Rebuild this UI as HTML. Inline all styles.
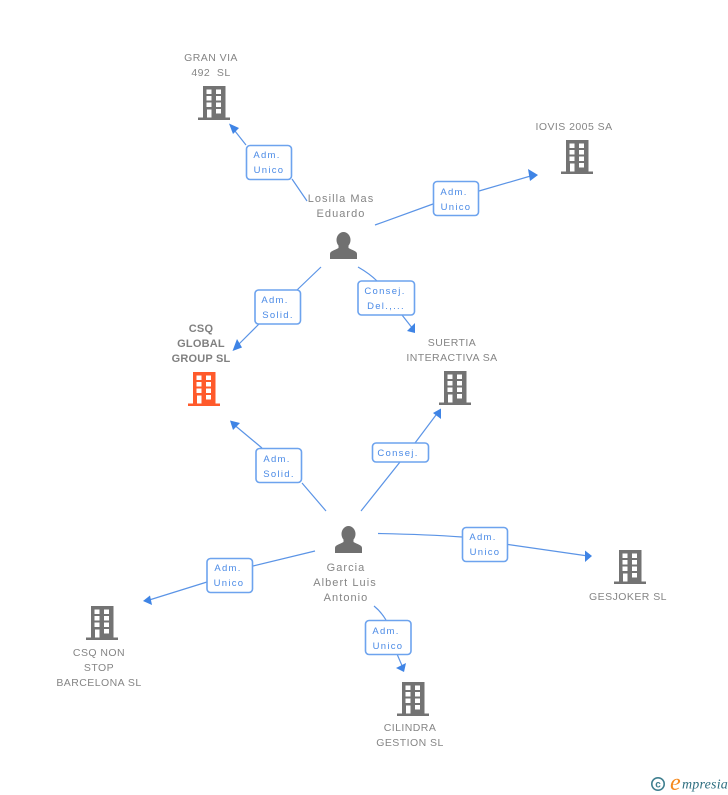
<!DOCTYPE html>
<html><head><meta charset="utf-8"><style>
html,body{margin:0;padding:0;background:#fff}
svg{display:block}
text{font-family:"Liberation Sans",sans-serif}
.n{font-size:10.5px;fill:#858585;text-anchor:middle;letter-spacing:.45px}
.p{font-size:11px;fill:#858585;text-anchor:middle;letter-spacing:1.05px}
.b{font-size:11px;font-weight:bold;fill:#808080;text-anchor:middle;letter-spacing:.2px}
.l{font-size:9.5px;fill:#4a8ae6;text-anchor:middle;letter-spacing:1.3px}
.c{fill:none;stroke:#5b94e6;stroke-width:1.2}
.a{fill:#3f84e5}
.box{fill:#fff;stroke:#6da3ee;stroke-width:1.6}
</style></head><body>
<svg width="728" height="795" viewBox="0 0 728 795" xmlns="http://www.w3.org/2000/svg">
<defs>
<g id="bd">
<path fill-rule="evenodd" d="M5 0H27.5V31.5H32V34H0V31.5H5Z M8.5 3.500V8H13.500V3.500Z M18 3.500V8H23V3.500Z M8.500 10V14.500H13.500V10Z M18 10V14.500H23V10Z M8.500 16.500V21H13.500V16.500Z M18 16.500V21H23V16.500Z M9 23.500V31.500H13.500V23.500Z M18 23V27.500H23V23Z"/>
</g>
<g id="pr" fill="#707070">
<ellipse cx="13.500" cy="8" rx="7" ry="8"/>
<path d="M0 27V22C0 19 4 18.500 8.500 16V13H18.500V16C23 18.500 27 19 27 22V27Z"/>
</g>
</defs>

<!-- connectors -->
<path class="c" d="M307 201L292 179M246 145L231 126"/>
<path class="a" d="M229 123.500L239 128L233 134Z"/>
<path class="c" d="M375 225L433 204M479 191L534 175"/>
<path class="a" d="M538 175L528 169L530 181Z"/>
<path class="c" d="M321 267L297 290M259 324L235 348"/>
<path class="a" d="M232.500 351L237 339L242 347.500Z"/>
<path class="c" d="M358 267C365 271 371 275 377 281M402 315L413 329"/>
<path class="a" d="M415 333L407 331L415 323Z"/>
<path class="c" d="M326 511L302 483M262 448L232 423"/>
<path class="a" d="M230 420.500L240 423L233 430Z"/>
<path class="c" d="M361 511L400 462M415 443L439 411"/>
<path class="a" d="M441 408.500L441 419L433 413Z"/>
<path class="c" d="M378 533.500C405 534 435 535 462 537M508 544.500L588 556"/>
<path class="a" d="M592 556L585 550.500L585 562Z"/>
<path class="c" d="M315 551L253 566M207 582L146 601"/>
<path class="a" d="M143 601L150 595.500L152 605Z"/>
<path class="c" d="M374 606C379 610 383 615 386 620M397 654L403 668"/>
<path class="a" d="M404 672L396 668L406 663Z"/>

<!-- icons -->
<use href="#bd" x="198" y="86" fill="#737373"/>
<use href="#bd" x="561" y="140" fill="#737373"/>
<use href="#bd" x="188" y="372" fill="#ff5a2b"/>
<use href="#bd" x="439" y="371" fill="#737373"/>
<use href="#bd" x="614" y="550" fill="#737373"/>
<use href="#bd" x="86" y="606" fill="#737373"/>
<use href="#bd" x="397" y="682" fill="#737373"/>
<use href="#pr" x="330" y="232"/>
<use href="#pr" x="335" y="526"/>

<!-- node labels -->
<text class="n" x="211" y="61">GRAN VIA</text>
<text class="n" x="211" y="76">492&#160; SL</text>
<text class="n" x="574" y="130">IOVIS 2005 SA</text>
<text class="p" x="341" y="202">Losilla Mas</text>
<text class="p" x="341" y="217">Eduardo</text>
<text class="b" x="201" y="332">CSQ</text>
<text class="b" x="201" y="347">GLOBAL</text>
<text class="b" x="201" y="362">GROUP SL</text>
<text class="n" x="452" y="346">SUERTIA</text>
<text class="n" x="452" y="361">INTERACTIVA SA</text>
<text class="p" x="346" y="571">Garcia</text>
<text class="p" x="345" y="586">Albert Luis</text>
<text class="p" x="346" y="601">Antonio</text>
<text class="n" x="628" y="600">GESJOKER SL</text>
<text class="n" x="99" y="656">CSQ NON</text>
<text class="n" x="99" y="671">STOP</text>
<text class="n" x="99" y="686">BARCELONA SL</text>
<text class="n" x="410" y="731">CILINDRA</text>
<text class="n" x="410" y="746">GESTION SL</text>

<!-- edge labels -->
<rect class="box" x="246.500" y="145.500" width="45" height="34" rx="3.500"/>
<text class="l" x="267" y="158">Adm.</text><text class="l" x="269" y="173">Unico</text>
<rect class="box" x="433.500" y="181.500" width="45" height="34" rx="3.500"/>
<text class="l" x="454" y="195">Adm.</text><text class="l" x="456" y="210">Unico</text>
<rect class="box" x="255" y="290" width="45.500" height="34" rx="3.500"/>
<text class="l" x="275" y="303">Adm.</text><text class="l" x="278" y="318">Solid.</text>
<rect class="box" x="358" y="281" width="56.500" height="34" rx="3.500"/>
<text class="l" x="385" y="294">Consej.</text><text class="l" x="386" y="309">Del.,...</text>
<rect class="box" x="256" y="448.500" width="45.500" height="34" rx="3.500"/>
<text class="l" x="277" y="462">Adm.</text><text class="l" x="279" y="477">Solid.</text>
<rect class="box" x="372.500" y="443" width="56" height="19" rx="3.500"/>
<text class="l" x="398" y="456">Consej.</text>
<rect class="box" x="462.500" y="527.500" width="45" height="34" rx="3.500"/>
<text class="l" x="483" y="540">Adm.</text><text class="l" x="485" y="555">Unico</text>
<rect class="box" x="207" y="558.500" width="45.500" height="34" rx="3.500"/>
<text class="l" x="228" y="571">Adm.</text><text class="l" x="229" y="586">Unico</text>
<rect class="box" x="365.500" y="620.500" width="45.500" height="34" rx="3.500"/>
<text class="l" x="386" y="634">Adm.</text><text class="l" x="388" y="649">Unico</text>

<!-- logo -->
<circle cx="658" cy="784" r="6.200" fill="none" stroke="#3f7f8f" stroke-width="1.600"/>
<text x="658" y="787.500" text-anchor="middle" style="font-size:10px;fill:#3f7f8f;font-weight:bold">c</text>
<text x="670" y="790" style="font-family:'Liberation Serif',serif;font-size:24px;font-style:italic;fill:#f58a1f">e</text>
<text x="682" y="788.500" style="font-family:'Liberation Serif',serif;font-size:14px;font-style:italic;fill:#2f6f80;letter-spacing:.2px">mpresia</text>
</svg>
</body></html>
